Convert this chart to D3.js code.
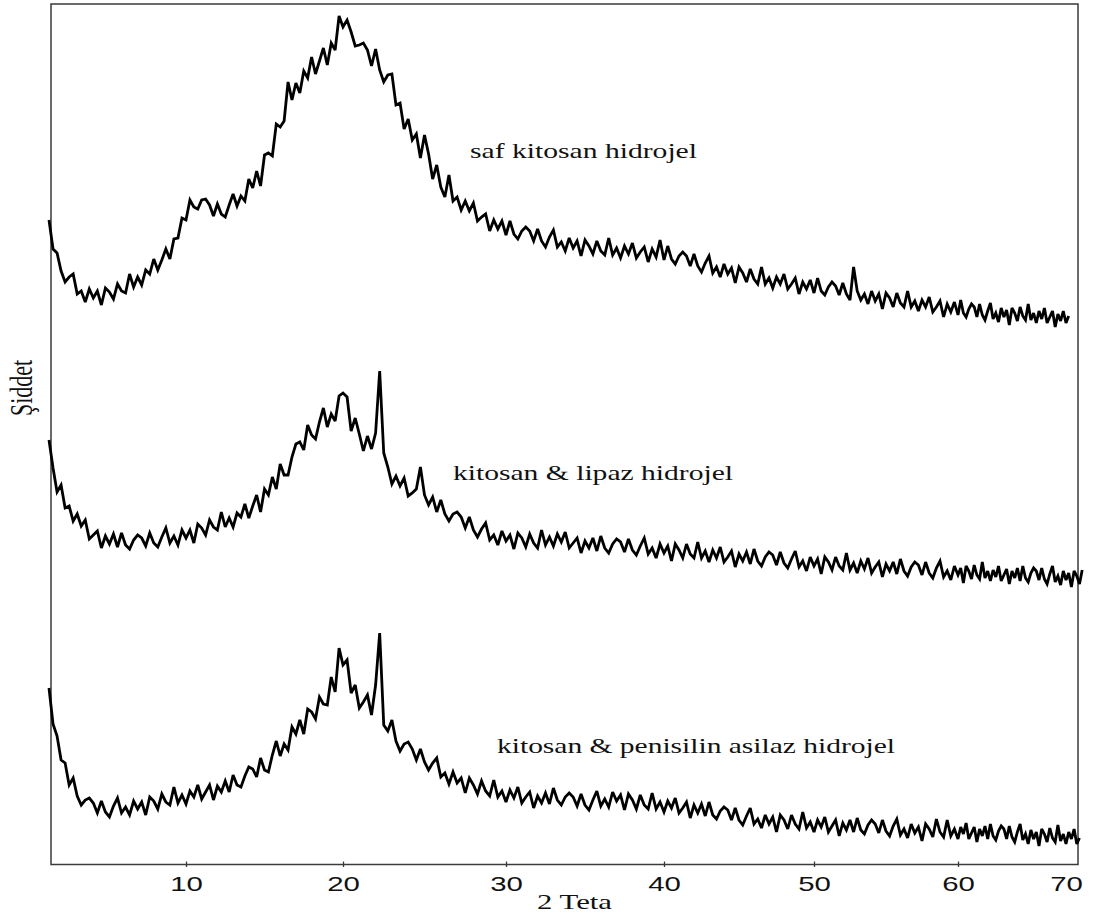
<!DOCTYPE html>
<html>
<head>
<meta charset="utf-8">
<script src="https://cdn.jsdelivr.net/npm/d3@7"></script>
<style>
  html, body { margin: 0; background: #ffffff; }
  svg { display: block; }
</style>
</head>
<body>
<svg id="chart" width="1094" height="914"></svg>
<script>
// XRD scan grid (2θ, degrees)
const scanStart = 1.5;
const scanStep = 0.25;

// x-axis tick labels
const tickValues = [10, 20, 30, 40, 50, 60, 70];

// series labels
const seriesNames = [
  "saf kitosan hidrojel",
  "kitosan & lipaz hidrojel",
  "kitosan & penisilin asilaz hidrojel"
];

// intensities (arbitrary units, stacked), one value per scan step
const safKitosan = [
  645,616,612,594,583,588,591,571,574,563,
  576,567,574,560,577,573,566,581,574,572,
  591,578,588,580,595,591,606,595,605,616,
  606,626,627,647,645,665,658,656,665,666,
  660,649,661,651,648,660,671,659,669,664,
  686,677,694,679,710,712,709,741,738,744,
  783,765,782,772,794,787,808,791,804,817,
  800,822,815,849,838,845,833,819,820,822,
  815,799,816,795,783,790,791,760,762,736,
  746,725,731,707,730,711,686,700,678,668,
  690,664,668,655,664,654,662,644,648,651,
  634,645,636,644,630,644,631,626,634,638,
  634,624,636,624,618,628,635,618,623,614,
  627,617,624,609,625,619,611,624,614,610,
  627,610,617,607,619,611,622,607,613,618,
  603,616,608,625,605,619,606,601,609,613,
  609,599,611,599,593,602,609,592,598,588,
  601,591,597,582,598,592,583,596,586,581,
  598,581,587,577,588,581,591,576,581,587,
  571,583,576,585,572,587,574,570,578,583,
  579,570,582,571,565,598,574,565,571,561,
  574,564,571,556,572,567,558,572,562,558,
  574,558,564,554,565,558,568,553,558,564,
  548,561,553,563,550,565,552,548,556,561,
  558,548,561,550,545,554,562,546,552,543,
  557,548,555,540,557,552,544,558,549,545,
  561,545,552,542,554,546,557,542,548,554,
  538,551,544,554,542,549
];

const kitosanLipaz = [
  425,397,373,380,357,359,344,351,339,345,
  326,330,334,317,329,321,331,318,332,320,
  316,325,330,327,319,332,322,318,328,337,
  322,329,320,335,327,335,322,341,337,330,
  345,338,335,353,338,347,338,352,348,361,
  347,359,370,353,376,370,388,376,401,390,
  390,408,421,423,415,440,430,426,443,457,
  438,451,444,469,472,468,434,447,431,414,
  429,416,432,494,412,398,381,389,379,387,
  369,372,376,398,370,360,368,353,365,351,
  344,351,353,348,337,348,335,328,336,342,
  325,330,320,334,324,330,316,332,327,318,
  331,322,317,335,320,328,319,331,323,333,
  317,322,327,312,324,317,327,314,329,317,
  312,321,326,323,313,326,315,310,319,327,
  311,317,307,321,312,319,304,321,315,307,
  321,311,307,323,307,314,303,315,307,318,
  303,308,314,298,311,304,313,301,316,304,
  299,308,313,310,300,313,302,297,306,314,
  298,304,294,308,299,306,291,308,303,295,
  308,299,295,312,295,302,292,304,296,307,
  292,298,303,288,301,294,303,291,306,294,
  289,298,303,300,290,303,292,287,297,304,
  288,294,285,299,290,297,282,299,294,286,
  300,290,286,303,287,294,284,295,288,299,
  284,290,296,281,294,287,297,284,299,287,
  283,292,297,294,285,297,286,281,291,299,
  283,289,280,294,285,292,278,294,289,281,
  295
];

const kitosanPenisilin = [
  177,141,129,105,102,80,87,69,60,65,
  67,62,52,64,53,48,59,67,52,58,
  50,64,56,63,50,68,64,56,71,63,
  60,78,62,70,61,74,68,80,66,73,
  80,65,79,73,84,73,90,80,78,89,
  98,96,88,107,95,93,110,124,109,121,
  115,138,131,145,131,156,153,146,168,161,
  160,188,173,217,200,205,172,180,157,163,
  170,150,180,232,140,134,145,124,114,121,
  123,116,105,116,103,95,102,107,88,92,
  81,93,82,87,72,87,80,71,84,74,
  69,85,68,74,63,75,67,78,62,68,
  73,57,69,62,72,61,77,65,60,68,
  72,68,59,71,60,55,65,74,59,66,
  58,73,64,70,55,71,65,56,70,60,
  56,72,56,63,53,64,57,67,52,57,
  63,47,60,52,61,49,63,50,46,54,
  58,55,45,57,45,40,49,57,41,46,
  37,50,41,48,33,50,45,36,50,41,
  36,53,37,43,33,45,38,48,33,39,
  45,29,42,35,45,33,47,35,31,40,
  45,41,32,45,34,29,39,46,30,36,
  27,41,32,38,24,41,36,28,46,33,
  28,45,29,36,26,38,31,42,26,32,
  38,23,36,29,39,26,41,29,25,34,
  39,36,26,39,28,23,33,41,25,31,
  21,35,26,33,19,36,31,23,37,27,
  23,40,24,31,21,33,26,36,21,27
];

const svg = d3.select("#chart");

// The 2θ axis is slightly non-uniform, so the scale is piecewise linear.
const x = d3.scaleLinear()
  .domain([1.5, 10, 20, 30, 40, 50, 60, 70])
  .range([49, 186, 343, 506, 664, 814, 958, 1066]);

const y = d3.scaleLinear().domain([0, 861]).range([865, 4]);

const plot = { left: 51, top: 4, right: 1078, bottom: 864.5 };

// frame
svg.append("rect")
  .attr("x", plot.left).attr("y", plot.top)
  .attr("width", plot.right - plot.left)
  .attr("height", plot.bottom - plot.top)
  .attr("fill", "none")
  .attr("stroke", "#3a3a3a")
  .attr("stroke-width", 1.5);

// bottom axis
const axis = svg.append("g")
  .attr("transform", `translate(0,${plot.bottom})`)
  .call(d3.axisBottom(x).tickValues(tickValues).tickFormat(d3.format("d")).tickSizeOuter(0));
axis.select(".domain").remove();
axis.selectAll(".tick line")
  .attr("y1", -3).attr("y2", 2.5)
  .attr("stroke", "#3a3a3a").attr("stroke-width", 1.3)
  .attr("display", d => d === 70 ? "none" : null);
axis.selectAll(".tick text")
  .attr("y", 26.5).attr("dy", null)
  .attr("fill", "#111")
  .attr("font-family", "'Liberation Sans', Arial, sans-serif")
  .attr("font-size", 21)
  .attr("transform", "scale(1.4,1)");

// axis titles
svg.append("text")
  .attr("x", 537).attr("y", 909)
  .attr("font-family", "'Liberation Serif', 'Times New Roman', serif")
  .attr("font-size", 21)
  .attr("textLength", 75).attr("lengthAdjust", "spacingAndGlyphs")
  .attr("fill", "#111")
  .text("2 Teta");

svg.append("text")
  .attr("transform", "translate(32,388) scale(1.4,1) rotate(-90)")
  .attr("text-anchor", "middle")
  .attr("font-family", "'Liberation Serif', 'Times New Roman', serif")
  .attr("font-size", 22)
  .attr("fill", "#111")
  .text("Şiddet");

// traces
const series = [safKitosan, kitosanLipaz, kitosanPenisilin];
const line = d3.line()
  .x((d, i) => x(scanStart + scanStep * i))
  .y(d => y(d))
  .curve(d3.curveLinear);

svg.append("g").selectAll("path")
  .data(series)
  .join("path")
  .attr("d", d => line(d))
  .attr("fill", "none")
  .attr("stroke", "#000")
  .attr("stroke-width", 2.8)
  .attr("stroke-linejoin", "miter")
  .attr("stroke-miterlimit", 3);

// series labels
const labelPos = [
  { x: 470, y: 158, w: 227 },
  { x: 453, y: 480, w: 280 },
  { x: 497, y: 753, w: 398 }
];
svg.append("g").selectAll("text")
  .data(seriesNames)
  .join("text")
  .attr("x", (d, i) => labelPos[i].x)
  .attr("y", (d, i) => labelPos[i].y)
  .attr("textLength", (d, i) => labelPos[i].w)
  .attr("lengthAdjust", "spacingAndGlyphs")
  .attr("font-family", "'Liberation Serif', 'Times New Roman', serif")
  .attr("font-size", 21)
  .attr("fill", "#111")
  .text(d => d);
</script>
</body>
</html>
